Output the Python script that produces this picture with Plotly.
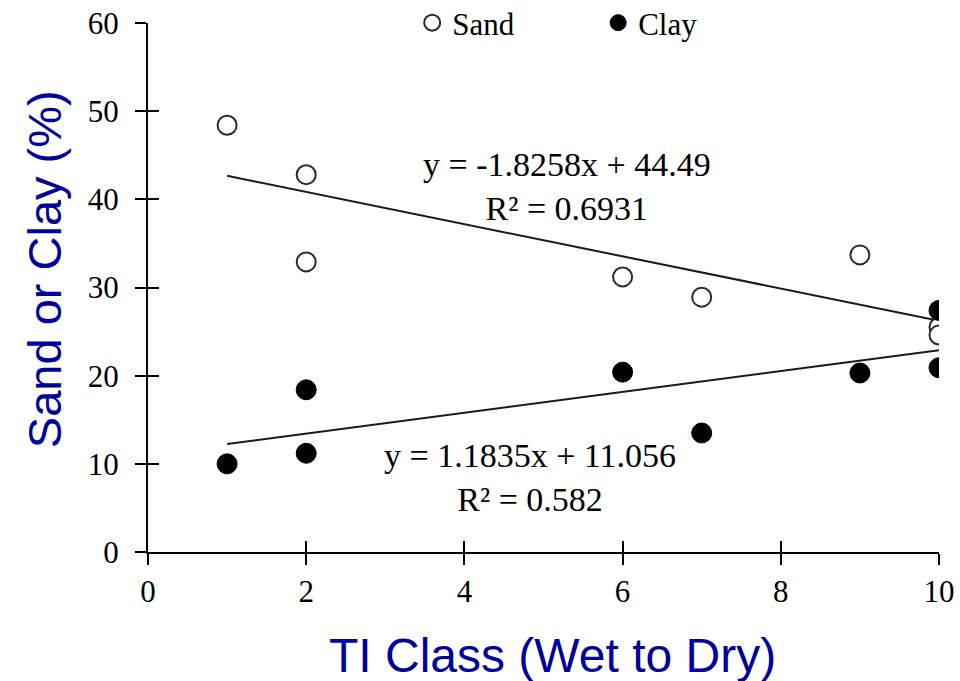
import plotly.graph_objects as go

# Data
sand_x = [1, 2, 2, 6, 7, 9, 10, 10]
sand_y = [48.4, 42.8, 32.9, 31.2, 28.9, 33.7, 25.5, 24.6]
clay_x = [1, 2, 2, 6, 7, 9, 10, 10]
clay_y = [10.0, 18.4, 11.2, 20.4, 13.5, 20.3, 27.4, 20.9]

sand_slope, sand_intercept, sand_r2 = -1.8258, 44.49, 0.6931
clay_slope, clay_intercept, clay_r2 = 1.1835, 11.056, 0.582

trend_x = [1, 10]

x_ticks = [0, 2, 4, 6, 8, 10]
y_ticks = [0, 10, 20, 30, 40, 50, 60]

SERIF = "Liberation Serif"
TITLE_COLOR = "#00009C"

fig = go.Figure()

# trend lines
fig.add_trace(go.Scatter(
    x=trend_x, y=[sand_slope * v + sand_intercept for v in trend_x],
    mode="lines", line=dict(color="#1a1a1a", width=2), showlegend=False, hoverinfo="skip"))
fig.add_trace(go.Scatter(
    x=trend_x, y=[clay_slope * v + clay_intercept for v in trend_x],
    mode="lines", line=dict(color="#1a1a1a", width=2), showlegend=False, hoverinfo="skip"))

fig.add_trace(go.Scatter(
    x=sand_x, y=sand_y, mode="markers", name="Sand",
    marker=dict(symbol="circle", size=19, color="white",
                line=dict(color="#2a2a2a", width=2))))
fig.add_trace(go.Scatter(
    x=clay_x, y=clay_y, mode="markers", name="Clay",
    marker=dict(symbol="circle", size=20, color="black",
                line=dict(color="black", width=1))))

# dummy trace for overlay axes (inside ticks -> crossing tick marks)
fig.add_trace(go.Scatter(x=[None], y=[None], xaxis="x2", yaxis="y2",
                         showlegend=False, hoverinfo="skip"))

fig.add_annotation(
    x=5.3, y=41.4, xref="x", yref="y", showarrow=False,
    text=f"y = {sand_slope}x + {sand_intercept}<br>R² = {sand_r2}",
    font=dict(family=SERIF, size=34, color="black"), align="center")
fig.add_annotation(
    x=4.83, y=8.4, xref="x", yref="y", showarrow=False,
    text=f"y = {clay_slope}x + {clay_intercept}<br>R² = {clay_r2}",
    font=dict(family=SERIF, size=34, color="black"), align="center")

# axis titles as annotations (positioned as in reference)
fig.add_annotation(
    x=-0.130, y=0.535, xref="paper", yref="paper", showarrow=False,
    text="Sand or Clay (%)", textangle=-90, xanchor="center", yanchor="middle",
    font=dict(family="Liberation Sans", size=47, color=TITLE_COLOR))
fig.add_annotation(
    x=0.511, y=-0.195, xref="paper", yref="paper", showarrow=False,
    text="TI Class (Wet to Dry)", xanchor="center", yanchor="middle",
    font=dict(family="Liberation Sans", size=48, color=TITLE_COLOR))

axis_common = dict(showgrid=False, zeroline=False, showline=True,
                   linecolor="black", linewidth=2, tickcolor="black",
                   tickwidth=2, ticklen=11)

fig.update_layout(
    width=960, height=681,
    margin=dict(l=148, r=21, t=23, b=129, autoexpand=False),
    plot_bgcolor="white", paper_bgcolor="white",
    xaxis=dict(range=[0, 10], tickvals=x_ticks, ticks="outside",
               tickfont=dict(family=SERIF, size=31, color="black"),
               automargin=False, **axis_common),
    yaxis=dict(range=[0, 60], tickvals=y_ticks, ticks="outside",
               tickfont=dict(family=SERIF, size=31, color="black"),
               ticklabelstandoff=10,
               automargin=False, **axis_common),
    xaxis2=dict(range=[0, 10], tickvals=x_ticks, ticks="inside", overlaying="x",
                anchor="y2", side="bottom", showticklabels=False, **axis_common),
    yaxis2=dict(range=[0, 60], tickvals=y_ticks, ticks="inside", overlaying="y",
                anchor="x2", side="left", showticklabels=False, **axis_common),
    legend=dict(orientation="h", x=0.334, xanchor="left", y=1.0, yanchor="middle",
                font=dict(family=SERIF, size=31, color="black"),
                entrywidth=141, entrywidthmode="pixels",
                bgcolor="rgba(0,0,0,0)", itemwidth=30),
    showlegend=True,
)

fig.write_html("out.html", config={"displayModeBar": False},
               post_script="document.body.style.margin='0';document.body.style.overflow='hidden';")
